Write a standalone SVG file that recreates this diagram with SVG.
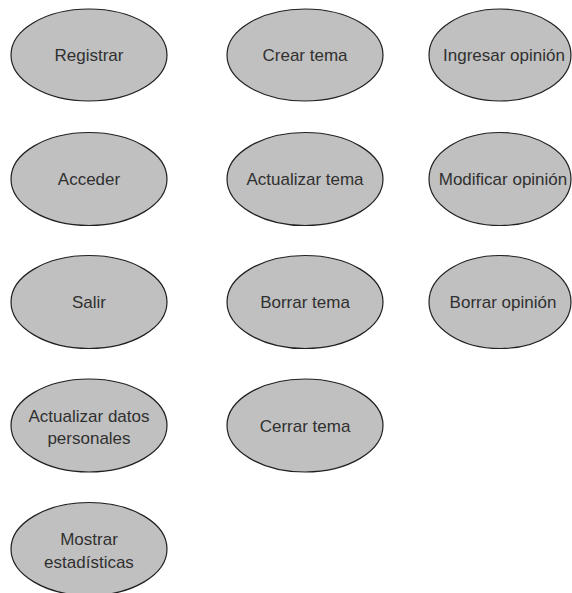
<svg xmlns="http://www.w3.org/2000/svg" width="572" height="593" viewBox="0 0 572 593">
<style>
.uc ellipse{fill:#c0c0c0;stroke:#202020;stroke-width:1.2}
.uc text{font-family:"Liberation Sans",Arial,sans-serif;font-size:17px;fill:#303030;text-anchor:middle}
</style>
<rect width="572" height="593" fill="#ffffff"/>
<g id="connectors"></g>
<g id="registrar" class="uc"><ellipse cx="89" cy="55" rx="78" ry="46"/><text x="89" y="61">Registrar</text></g>
<g id="acceder" class="uc"><ellipse cx="89" cy="179" rx="78" ry="46.5"/><text x="89" y="185">Acceder</text></g>
<g id="salir" class="uc"><ellipse cx="89" cy="302" rx="78" ry="46.5"/><text x="89" y="308">Salir</text></g>
<g id="actualizar-datos" class="uc"><ellipse cx="89" cy="425.5" rx="78" ry="46.5"/><text x="89" y="421.5">Actualizar datos</text><text x="89" y="444">personales</text></g>
<g id="mostrar-estadisticas" class="uc"><ellipse cx="89" cy="549" rx="78" ry="46.5"/><text x="89" y="545">Mostrar</text><text x="89" y="567.5">estadísticas</text></g>
<g id="crear-tema" class="uc"><ellipse cx="305" cy="55" rx="78" ry="46"/><text x="305" y="61">Crear tema</text></g>
<g id="actualizar-tema" class="uc"><ellipse cx="305" cy="179" rx="78" ry="46.5"/><text x="305" y="185">Actualizar tema</text></g>
<g id="borrar-tema" class="uc"><ellipse cx="305" cy="302" rx="78" ry="46.5"/><text x="305" y="308">Borrar tema</text></g>
<g id="cerrar-tema" class="uc"><ellipse cx="305" cy="425.5" rx="78" ry="46.5"/><text x="305" y="431.5">Cerrar tema</text></g>
<g id="ingresar-opinion" class="uc"><ellipse cx="500" cy="55" rx="71" ry="46"/><text x="504" y="61">Ingresar opinión</text></g>
<g id="modificar-opinion" class="uc"><ellipse cx="500" cy="179" rx="71" ry="46.5"/><text x="503" y="185">Modificar opinión</text></g>
<g id="borrar-opinion" class="uc"><ellipse cx="500" cy="302" rx="71" ry="46.5"/><text x="503" y="308">Borrar opinión</text></g>
</svg>
